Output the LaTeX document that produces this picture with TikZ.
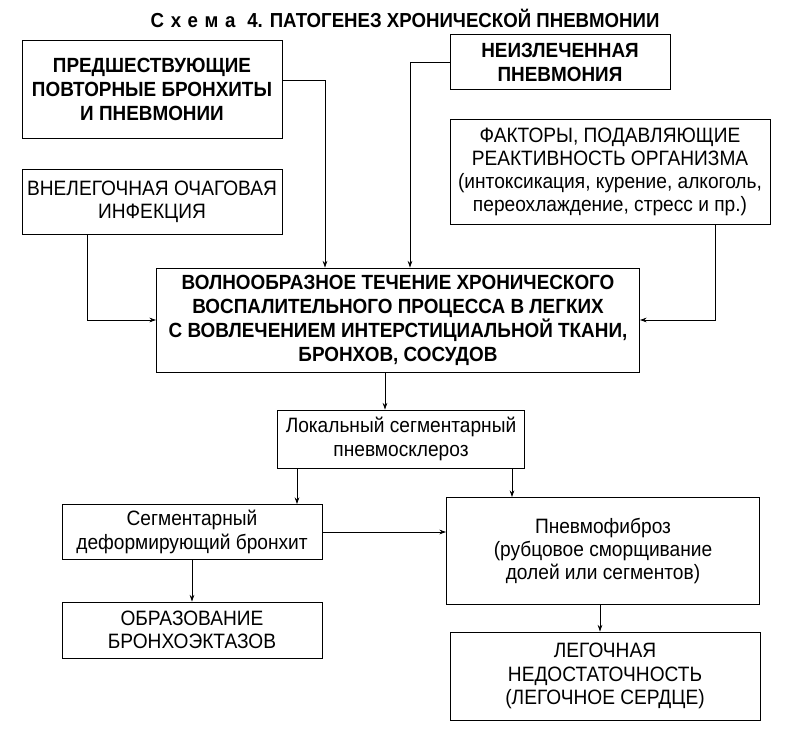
\documentclass[tikz,border=0pt]{standalone}
\usepackage{fontspec}
\setmainfont{Liberation Sans}[FakeStretch=0.92]
\usepackage{tikz}
\usetikzlibrary{arrows.meta, calc}

\begin{document}
\begin{tikzpicture}[
  x=0.75pt, y=-0.75pt,
  box/.style={draw, line width=0.7pt, align=center, inner sep=2pt, font=\fontsize{15.6}{17.4}\selectfont},
  bbox/.style={box, font=\fontsize{15.4}{18}\selectfont\bfseries},
  arr/.style={draw, line width=0.6pt, -{Stealth[length=5pt, width=3.5pt]}},
]
  \useasboundingbox (0,0) rectangle (808,741);
  % Title
  \node[font=\fontsize{15.2}{18}\selectfont\bfseries] (title) at (405,18)
    {{\addfontfeature{LetterSpace=34}Схема}\hspace{5pt} 4. ПАТОГЕНЕЗ ХРОНИЧЕСКОЙ ПНЕВМОНИИ};
  % Causes
  \node[bbox, minimum width=195pt, minimum height=73.5pt] (prev) at (152,89)
    {ПРЕДШЕСТВУЮЩИЕ\\ПОВТОРНЫЕ БРОНХИТЫ\\И ПНЕВМОНИИ};
  \node[bbox, minimum width=165pt, minimum height=41.25pt] (unhealed) at (560,62)
    {НЕИЗЛЕЧЕННАЯ\\ПНЕВМОНИЯ};
  \node[box, minimum width=240pt, minimum height=78.75pt] (factors) at (610,172)
    {ФАКТОРЫ, ПОДАВЛЯЮЩИЕ\\РЕАКТИВНОСТЬ ОРГАНИЗМА\\(интоксикация, курение, алкоголь,\\переохлаждение, стресс и пр.)};
  \node[box, minimum width=195pt, minimum height=48.75pt] (focal) at (152,202)
    {ВНЕЛЕГОЧНАЯ ОЧАГОВАЯ\\ИНФЕКЦИЯ};
  % Central process
  \node[bbox, minimum width=362.25pt, minimum height=78pt] (course) at (398,320)
    {ВОЛНООБРАЗНОЕ ТЕЧЕНИЕ ХРОНИЧЕСКОГО\\ВОСПАЛИТЕЛЬНОГО ПРОЦЕССА В ЛЕГКИХ\\С ВОВЛЕЧЕНИЕМ ИНТЕРСТИЦИАЛЬНОЙ ТКАНИ,\\БРОНХОВ, СОСУДОВ};
  % Consequences
  \node[box, minimum width=185.25pt, minimum height=43.5pt] (sclerosis) at (401,439)
    {Локальный сегментарный\\пневмосклероз};
  \node[box, minimum width=195pt, minimum height=41.25pt] (bronchitis) at (192,532)
    {Сегментарный\\деформирующий бронхит};
  \node[box, minimum width=234.75pt, minimum height=80.25pt] (fibrosis) at (603,551)
    {Пневмофиброз\\(рубцовое сморщивание\\долей или сегментов)};
  \node[box, minimum width=195pt, minimum height=42pt] (ectasis) at (192,630)
    {ОБРАЗОВАНИЕ\\БРОНХОЭКТАЗОВ};
  \node[box, minimum width=232.5pt, minimum height=66pt] (failure) at (605,676)
    {ЛЕГОЧНАЯ\\НЕДОСТАТОЧНОСТЬ\\(ЛЕГОЧНОЕ СЕРДЦЕ)};
  % Connectors into the central box
  \draw[arr] ($(prev.east)+(0,-9)$) -| ($(course.north)+(-73,0)$);
  \draw[arr] (unhealed.west) -| ($(course.north)+(12,0)$);
  \draw[arr] ($(factors.south)+(105,0)$) |- (course.east);
  \draw[arr] ($(focal.south)+(-65,0)$) |- (course.west);
  % Connectors below
  \coordinate (c1) at ($(course.south)+(-13,0)$);
  \draw[arr] (c1) -- (c1 |- sclerosis.north);
  \coordinate (c2) at ($(sclerosis.south)+(-104,0)$);
  \draw[arr] (c2) -- (c2 |- bronchitis.north);
  \coordinate (c3) at ($(sclerosis.south)+(111,0)$);
  \draw[arr] (c3) -- (c3 |- fibrosis.north);
  \draw[arr] (bronchitis.east) -- (bronchitis.east -| fibrosis.west);
  \draw[arr] (bronchitis.south) -- (ectasis.north);
  \coordinate (c4) at ($(fibrosis.south)+(-3,0)$);
  \draw[arr] (c4) -- (c4 |- failure.north);
\end{tikzpicture}
\end{document}
